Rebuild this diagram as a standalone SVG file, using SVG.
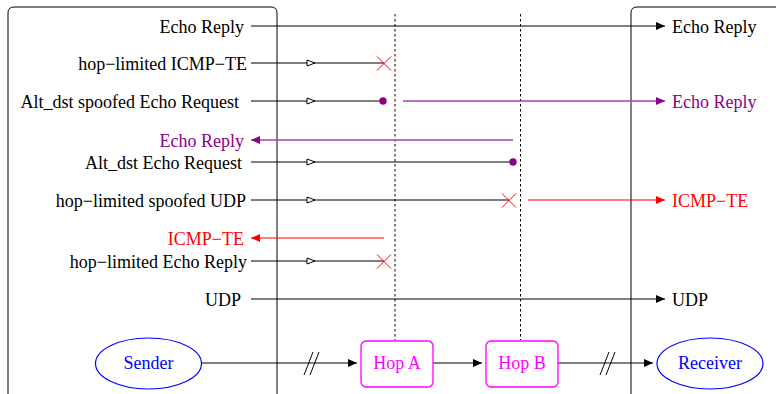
<svg xmlns="http://www.w3.org/2000/svg" xmlns:xlink="http://www.w3.org/1999/xlink" width="776" height="394" viewBox="0 0 776 394">
<style>
text{font-family:"Liberation Serif","Times New Roman",serif;font-size:18px}
.l{text-anchor:end}
.k{fill:#000}
.p{fill:#8b008b}
.r{fill:#ff0000}
.m{fill:#ff00ff;text-anchor:middle}
.b{fill:#0000ff;text-anchor:middle}
.ln{stroke:#000;stroke-width:1;fill:none}
.lp{stroke:#a445ad;stroke-width:1.3;fill:none}
.lr{stroke:#ff0000;stroke-width:1.2;fill:none}
.dash{stroke:#000;stroke-width:1;stroke-dasharray:2.5,2.5;fill:none}
</style>
<defs>
<marker id="ak" markerWidth="9" markerHeight="8" refX="9" refY="4" orient="auto" markerUnits="userSpaceOnUse"><path d="M0,0 L9,4 L0,8 Z" fill="#000"/></marker>
<marker id="ap" markerWidth="9" markerHeight="8" refX="9" refY="4" orient="auto" markerUnits="userSpaceOnUse"><path d="M0,0 L9,4 L0,8 Z" fill="#8b008b"/></marker>
<marker id="ar" markerWidth="9" markerHeight="8" refX="9" refY="4" orient="auto" markerUnits="userSpaceOnUse"><path d="M0,0 L9,4 L0,8 Z" fill="#ff0000"/></marker>
<path id="tri" d="M0,-3 L8,0 L0,3 Z" fill="#fff" stroke="#000" stroke-width="1"/>
<path id="xm" d="M-7,-7 L7,7 M-7,7 L7,-7" stroke="#ff0000" stroke-width="1" fill="none"/>
</defs>
<rect width="776" height="394" fill="#fff"/>
<g id="sender-box"><path d="M8,400 L8,13 Q8,7 14,7 L271,7 Q277,7 277,13 L277,400" class="ln"/></g>
<g id="receiver-box"><path d="M631,400 L631,13 Q631,7 637,7 L780,7" class="ln"/></g>
<g id="lifelines">
<line x1="395" y1="14" x2="395" y2="340" class="dash"/>
<line x1="520.5" y1="14" x2="520.5" y2="340" class="dash"/>
</g>
<g id="connectors">
<line x1="251" y1="26" x2="665" y2="26" class="ln" marker-end="url(#ak)"/>
<line x1="251" y1="63" x2="384" y2="63" class="ln"/>
<use xlink:href="#tri" x="307" y="63"/>
<use xlink:href="#xm" x="384" y="63.5"/>
<line x1="251" y1="101" x2="383" y2="101" class="ln"/>
<use xlink:href="#tri" x="307" y="101"/>
<circle cx="383" cy="101" r="3.7" fill="#8b008b"/>
<line x1="403" y1="101" x2="665" y2="101" class="lp" marker-end="url(#ap)"/>
<line x1="513" y1="140" x2="251" y2="140" class="lp" marker-end="url(#ap)"/>
<line x1="251" y1="162" x2="513" y2="162" class="ln"/>
<use xlink:href="#tri" x="307" y="162"/>
<circle cx="513" cy="162" r="3.7" fill="#8b008b"/>
<line x1="251" y1="200" x2="509" y2="200" class="ln"/>
<use xlink:href="#tri" x="307" y="200"/>
<use xlink:href="#xm" x="509" y="200.5"/>
<line x1="528" y1="200" x2="665" y2="200" class="lr" marker-end="url(#ar)"/>
<line x1="384" y1="238" x2="251" y2="238" class="lr" marker-end="url(#ar)"/>
<line x1="251" y1="261" x2="384" y2="261" class="ln"/>
<use xlink:href="#tri" x="307" y="261"/>
<use xlink:href="#xm" x="384" y="261.5"/>
<line x1="251" y1="299" x2="665" y2="299" class="ln" marker-end="url(#ak)"/>
<line x1="202" y1="363" x2="357" y2="363" class="ln" marker-end="url(#ak)"/>
<path d="M304,375 L313,352 M310,375 L319,352" class="ln"/>
<line x1="433" y1="363" x2="482" y2="363" class="ln" marker-end="url(#ak)"/>
<line x1="558" y1="363" x2="653" y2="363" class="ln" marker-end="url(#ak)"/>
<path d="M600,375 L609,352 M606,375 L615,352" class="ln"/>
</g>
<g id="labels">
<text x="244" y="33" class="l k">Echo Reply</text>
<text x="247" y="70" class="l k">hop−limited ICMP−TE</text>
<text x="239" y="108" class="l k">Alt_dst spoofed Echo Request</text>
<text x="244" y="147" class="l p">Echo Reply</text>
<text x="242" y="169" class="l k">Alt_dst Echo Request</text>
<text x="246" y="207" class="l k">hop−limited spoofed UDP</text>
<text x="244" y="245" class="l r">ICMP−TE</text>
<text x="247" y="268" class="l k">hop−limited Echo Reply</text>
<text x="241" y="306" class="l k">UDP</text>
<text x="672" y="33" class="k">Echo Reply</text>
<text x="672" y="108" class="p">Echo Reply</text>
<text x="672" y="207" class="r">ICMP−TE</text>
<text x="672" y="306" class="k">UDP</text>
</g>
<g id="sender"><ellipse cx="148.5" cy="363.5" rx="53" ry="25.5" fill="none" stroke="#0000ff" stroke-width="1.2"/><text x="148.5" y="369" class="b">Sender</text></g>
<g id="hopA"><rect x="361" y="341" width="72" height="46" rx="5" fill="none" stroke="#ff00ff" stroke-width="1.3"/><text x="397" y="369" class="m">Hop A</text></g>
<g id="hopB"><rect x="486" y="341" width="72" height="46" rx="5" fill="none" stroke="#ff00ff" stroke-width="1.3"/><text x="522" y="369" class="m">Hop B</text></g>
<g id="receiver"><ellipse cx="710" cy="363.5" rx="53" ry="25.5" fill="none" stroke="#0000ff" stroke-width="1.2"/><text x="710" y="369" class="b">Receiver</text></g>
</svg>
